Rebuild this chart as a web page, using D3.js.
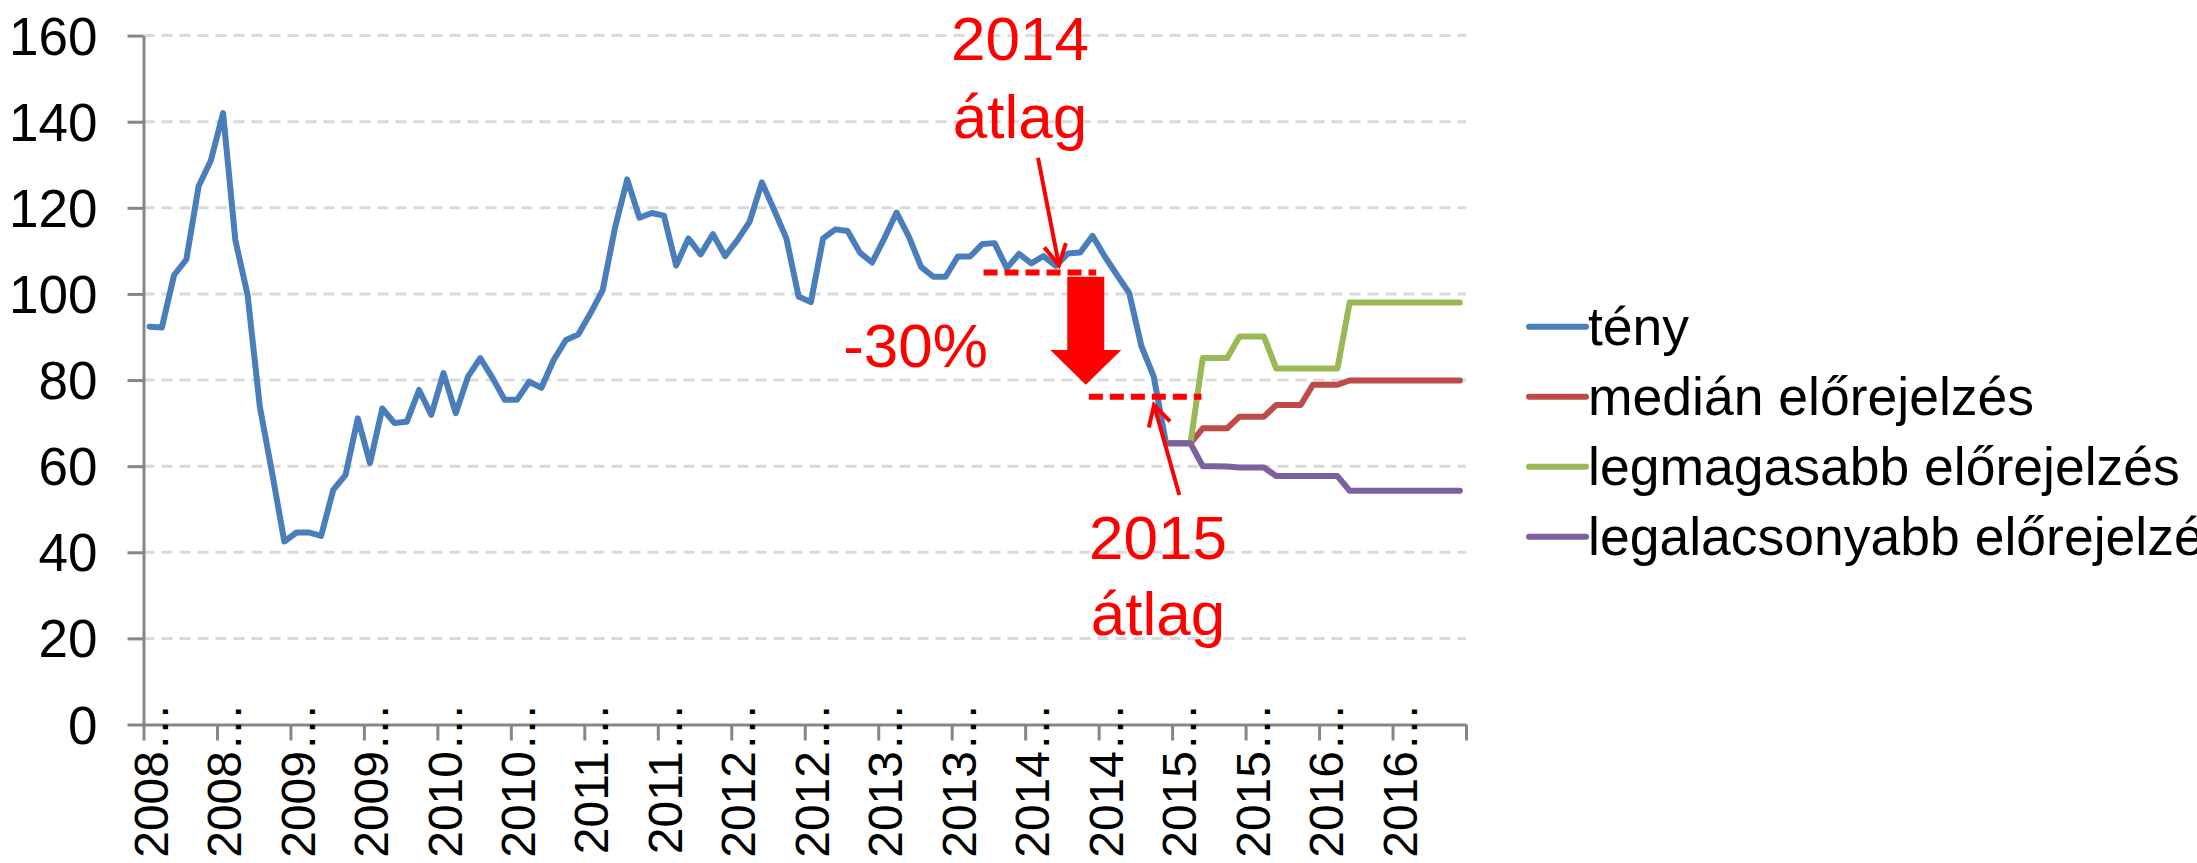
<!DOCTYPE html>
<html>
<head>
<meta charset="utf-8">
<script src="https://cdn.jsdelivr.net/npm/d3@7"></script>
<style>
  html, body { margin: 0; padding: 0; background: #fff; }
  svg { display: block; font-family: "Liberation Sans", Arial, sans-serif; }
</style>
</head>
<body>
<svg id="chart" width="2197" height="863"></svg>
<script>
// havi adatok, 2008 jan - 2016 dec
const months = d3.timeMonth.range(new Date(2008, 0, 1), new Date(2017, 0, 1));

const tenyValues = [
  92.4, 92.2, 104.4, 108, 125, 131, 142, 112.5, 99.8, 73.8, 58.5, 42.5,
  44.6, 44.6, 43.8, 54.5, 58, 71.1, 60.7, 73.4, 70, 70.3, 77.7, 71.9,
  81.6, 72.3, 80.8, 85.1, 80.5, 75.4, 75.4, 79.6, 78.2, 84.7, 89.3, 90.6,
  95.5, 100.9, 115.3, 126.6, 117.7, 118.8, 118.2, 106.6, 112.9, 109.2, 113.9, 108.8,
  112.5, 116.8, 125.9, 119.5, 112.9, 99.4, 98.1, 112.9, 115, 114.6, 109.6, 107.3,
  112.9, 118.9, 113.3, 106.3, 104, 104, 108.7, 108.7, 111.6, 111.8, 106, 109.3,
  107.1, 108.8, 106.5, 109.4, 109.6, 113.5, 108.7, 104.4, 100.2, 87.8, 80.8, 65.3
];

// előrejelzések 2014 dec-től
const forecastStart = 83;
const medianValues = [
  65.3, 65.3, 65.3, 68.8, 68.8, 68.8, 71.5, 71.5, 71.5, 74.2, 74.2, 74.2, 78.9,
  78.9, 78.9, 79.9, 79.9, 79.9, 79.9, 79.9, 79.9, 79.9, 79.9, 79.9, 79.9
];
const highValues = [
  65.3, 65.3, 65.3, 85.1, 85.1, 85.1, 90.1, 90.1, 90.1, 82.7, 82.7, 82.7, 82.7,
  82.7, 82.7, 98, 98, 98, 98, 98, 98, 98, 98, 98, 98
];
const lowValues = [
  65.3, 65.3, 65.3, 60, 60, 59.9, 59.7, 59.7, 59.7, 57.7, 57.7, 57.7, 57.7,
  57.7, 57.7, 54.3, 54.3, 54.3, 54.3, 54.3, 54.3, 54.3, 54.3, 54.3, 54.3
];

const tickLabels = [
  "2008…", "2008…", "2009…", "2009…", "2010…", "2010…", "2011…", "2011…", "2012…",
  "2012…", "2013…", "2013…", "2014…", "2014…", "2015…", "2015…", "2016…", "2016…"
];
const yTicks = [0, 20, 40, 60, 80, 100, 120, 140, 160];

const seriesNames = ["tény", "medián előrejelzés", "legmagasabb előrejelzés", "legalacsonyabb előrejelzés"];
const seriesColors = ["#4A7EBB", "#BE4B48", "#98B954", "#7D60A0"];

// átlagok
const avg2014 = 105;
const avg2015 = 76.1;

const RED = "#FF0000";
const AXIS = "#868686";

const svg = d3.select("#chart");
svg.append("rect").attr("width", 2197).attr("height", 863).attr("fill", "#fff");

const x = d3.scaleLinear().domain([-0.5, months.length - 0.5]).range([143.5, 1466]);
const y = d3.scaleLinear().domain([0, 160]).range([724.5, 35.6]);

// rácsvonalak
svg.append("g")
  .selectAll("line")
  .data(yTicks.filter(d => d > 0))
  .enter()
  .append("line")
  .attr("x1", x.range()[0])
  .attr("x2", x.range()[1])
  .attr("y1", d => y(d))
  .attr("y2", d => y(d))
  .attr("stroke", "#D9D9D9")
  .attr("stroke-width", 3)
  .attr("stroke-dasharray", "11,7");

// y tengely
const yAxis = svg.append("g")
  .attr("transform", `translate(${x.range()[0]},0)`)
  .call(d3.axisLeft(y).tickValues(yTicks).tickSize(16).tickSizeOuter(0).tickPadding(30));
yAxis.selectAll("path, line").attr("stroke", AXIS).attr("stroke-width", 3);
yAxis.selectAll("text")
  .attr("fill", "#000")
  .style("font-size", "53px")
  .attr("dy", "0.35em");

// x tengely
const xTickPos = d3.range(0, tickLabels.length + 1).map(k => k * 6 - 0.5);
const xAxis = svg.append("g")
  .attr("transform", `translate(0,${y(0)})`)
  .call(d3.axisBottom(x).tickValues(xTickPos).tickSize(16).tickSizeOuter(0).tickFormat(""));
xAxis.selectAll("path, line").attr("stroke", AXIS).attr("stroke-width", 3);

svg.append("g")
  .selectAll("text")
  .data(tickLabels)
  .enter()
  .append("text")
  .attr("transform", (d, k) => `translate(${x(k * 6) + 18},703) rotate(-90)`)
  .attr("text-anchor", "end")
  .attr("fill", "#000")
  .style("font-size", "48px")
  .text(d => d);

// vonalak
const line = d3.line()
  .x(d => x(d.i))
  .y(d => y(d.v));

const series = [
  tenyValues.map((v, i) => ({ i, v })),
  medianValues.map((v, i) => ({ i: i + forecastStart, v })),
  highValues.map((v, i) => ({ i: i + forecastStart, v })),
  lowValues.map((v, i) => ({ i: i + forecastStart, v })),
];

svg.append("g")
  .selectAll("path")
  .data(series)
  .enter()
  .append("path")
  .attr("d", line)
  .attr("fill", "none")
  .attr("stroke", (d, k) => seriesColors[k])
  .attr("stroke-width", 6)
  .attr("stroke-linejoin", "round")
  .attr("stroke-linecap", "round");

// jelmagyarázat
const legend = svg.append("g");
seriesNames.forEach((name, k) => {
  const ly = 326.7 + k * 70;
  legend.append("line")
    .attr("x1", 1529).attr("x2", 1586)
    .attr("y1", ly).attr("y2", ly)
    .attr("stroke", seriesColors[k])
    .attr("stroke-width", 6)
    .attr("stroke-linecap", "round");
  legend.append("text")
    .attr("x", 1588)
    .attr("y", ly + 18.5)
    .attr("fill", "#000")
    .style("font-size", "53.5px")
    .text(name);
});

// annotációk
const ann = svg.append("g");

function dashed(v, i0, i1) {
  ann.append("line")
    .attr("x1", x(i0)).attr("x2", x(i1))
    .attr("y1", y(v)).attr("y2", y(v))
    .attr("stroke", RED)
    .attr("stroke-width", 6)
    .attr("stroke-dasharray", "14,7");
}
dashed(avg2014, 68.1, 77.3);
dashed(avg2015, 76.7, 85.9);

function arrow(i0, v0, i1, v1) {
  const x0 = x(i0), y0 = y(v0), x1 = x(i1), y1 = y(v1);
  const a = Math.atan2(y0 - y1, x0 - x1);
  const len = 23, spread = 0.5;
  ann.append("line")
    .attr("x1", x0).attr("y1", y0).attr("x2", x1).attr("y2", y1)
    .attr("stroke", RED).attr("stroke-width", 4);
  ann.append("path")
    .attr("d", `M${x1 + len * Math.cos(a - spread)},${y1 + len * Math.sin(a - spread)}L${x1},${y1}L${x1 + len * Math.cos(a + spread)},${y1 + len * Math.sin(a + spread)}`)
    .attr("fill", "none")
    .attr("stroke", RED)
    .attr("stroke-width", 4)
    .attr("stroke-linejoin", "miter");
}
arrow(72.55, 131.6, 74.26, 106.7);
arrow(84.09, 53.3, 82.02, 74.2);

// nagy lefelé mutató nyíl
const bx = x(76.45);
const bTop = y(104), bNeck = y(87), bTip = y(78.9);
ann.append("path")
  .attr("d", `M${bx - 18.5},${bTop}L${bx + 18.5},${bTop}L${bx + 18.5},${bNeck}L${bx + 35.5},${bNeck}L${bx},${bTip}L${bx - 35.5},${bNeck}L${bx - 18.5},${bNeck}Z`)
  .attr("fill", RED);

function label(lines, i, v, dyPx) {
  const t = ann.append("text")
    .attr("text-anchor", "middle")
    .attr("fill", RED)
    .style("font-size", "62px");
  lines.forEach((s, k) => {
    t.append("tspan").attr("x", x(i)).attr("y", y(v) + k * dyPx).text(s);
  });
}
label(["2014", "átlag"], 71.08, 154.4, 78);
label(["2015", "átlag"], 82.35, 38.4, 76);
label(["-30%"], 62.55, 83.0, 0);
</script>
</body>
</html>
